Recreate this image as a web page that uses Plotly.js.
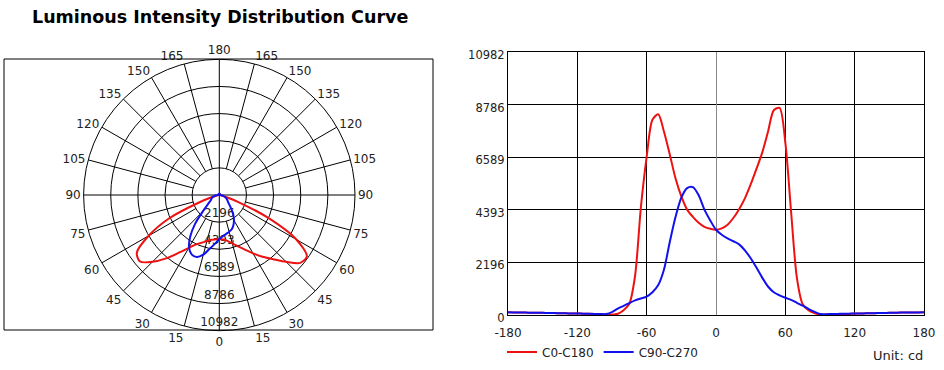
<!DOCTYPE html>
<html>
<head>
<meta charset="utf-8">
<script src="https://cdn.plot.ly/plotly-3.0.1.min.js"></script>
<style>html,body{margin:0;padding:0;background:#fff;}#chart{width:944px;height:370px;}</style>
</head>
<body>
<div id="chart"></div>
<script>
// ---- data ----
const angles = [-180,-175,-170,-165,-160,-155,-150,-145,-140,-135,-130,-125,-120,-115,-110,-105,-100,-95,-90,-85,-80,-75,-70,-65,-60,-55,-50,-45,-40,-35,-30,-25,-20,-15,-10,-5,0,5,10,15,20,25,30,35,40,45,50,55,60,65,70,75,80,85,90,95,100,105,110,115,120,125,130,135,140,145,150,155,160,165,170,175,180];
const c0c180 = [110,105,100,100,95,95,90,85,80,75,70,65,60,55,50,40,30,20,10,50,200,470,1650,4500,6600,8150,8380,7650,6700,5700,4950,4400,4100,3850,3680,3600,3560,3620,3770,4050,4420,4870,5450,6100,6780,7650,8550,8650,7200,4300,1550,450,200,80,20,15,20,30,35,45,55,60,70,75,80,85,90,95,100,100,105,105,110];
const c90c270 = [110,105,100,100,95,95,90,85,80,75,70,65,60,55,50,45,40,40,120,270,380,500,610,690,770,950,1250,1900,3050,4100,4900,5300,5340,5000,4400,3950,3560,3350,3200,3080,2950,2700,2370,1980,1560,1190,950,820,720,630,510,390,260,140,40,35,40,45,50,55,60,65,70,75,80,85,90,95,100,100,105,105,110];
const seriesNames = ['C0-C180','C90-C270'];
const maxVal = 10982;
const radialTicks = [2196.4,4392.8,6589.2,8785.6,10982];
const radialTickText = ['2196','4393','6589','8786','10982'];
const xTicks = [-180,-120,-60,0,60,120,180];
const xTickText = ['-180','-120','-60','0','60','120','180'];
const yTicks = [0,2196.4,4392.8,6589.2,8785.6,10982];
const yTickText = ['0','2196','4393','6589','8786','10982'];
const polarTickVals = [0,15,30,45,60,75,90,105,120,135,150,165,180,195,210,225,240,255,270,285,300,315,330,345];
const polarTickText = ['0','15','30','45','60','75','90','105','120','135','150','165','180','165','150','135','120','105','90','75','60','45','30','15'];
const titleText = 'Luminous Intensity Distribution Curve';
const unitText = 'Unit: cd';

// ---- styles ----
const RED = '#ee1111', BLUE = '#1111ee';
const FONT = 'DejaVu Sans, Verdana, sans-serif';

// spokes grid for polar
const spokeR = [], spokeT = [];
polarTickVals.forEach(a => {
  const full = (a % 90 === 0);
  spokeR.push(full ? 0 : radialTicks[0], maxVal, null);
  spokeT.push(a, a, null);
});

const traces = [
  {type:'scatterpolar', r:spokeR, theta:spokeT, mode:'lines', line:{color:'#000', width:1},
   hoverinfo:'skip', showlegend:false, subplot:'polar', connectgaps:false},
  {type:'scatterpolar', r:radialTicks.map(v => v - 650), theta:radialTicks.map(() => 0), mode:'text',
   text:radialTickText, textposition:'middle center', textfont:{family:FONT, size:12, color:'#222'},
   hoverinfo:'skip', showlegend:false, subplot:'polar'},
  {type:'scatterpolar', r:c0c180, theta:angles, mode:'lines', line:{color:RED, width:2, shape:'spline', smoothing:0.8},
   showlegend:false, subplot:'polar', name:seriesNames[0]},
  {type:'scatterpolar', r:c90c270, theta:angles, mode:'lines', line:{color:BLUE, width:2, shape:'spline', smoothing:0.8},
   showlegend:false, subplot:'polar', name:seriesNames[1]},
  {type:'scatter', x:angles, y:c0c180, mode:'lines', name:seriesNames[0],
   line:{color:RED, width:2, shape:'spline', smoothing:0.8}, xaxis:'x', yaxis:'y'},
  {type:'scatter', x:angles, y:c90c270, mode:'lines', name:seriesNames[1],
   line:{color:BLUE, width:2, shape:'spline', smoothing:0.8}, xaxis:'x', yaxis:'y'}
];

const W = 944, H = 370;
const cx = 219.3, cy = 195, R = 135.7;

const layout = {
  width: W, height: H,
  margin:{l:0, r:0, t:0, b:0},
  paper_bgcolor:'#fff', plot_bgcolor:'#fff',
  font:{family:FONT, color:'#222'},
  polar:{
    domain:{x:[(cx-R)/W, (cx+R)/W], y:[1-(cy+R)/H, 1-(cy-R)/H]},
    bgcolor:'#fff',
    angularaxis:{rotation:270, direction:'counterclockwise', tickmode:'array',
      tickvals:polarTickVals, ticktext:polarTickText, showgrid:false, ticks:'',
      showline:true, linecolor:'#000', linewidth:1, tickfont:{family:FONT, size:12, color:'#222'}},
    radialaxis:{range:[0, maxVal], tickmode:'array', tickvals:radialTicks, showticklabels:false,
      ticks:'', showline:false, showgrid:true, gridcolor:'#000', gridwidth:1}
  },
  xaxis:{domain:[508/W, 924/W], range:[-180,180], tickmode:'array', tickvals:xTicks, ticktext:xTickText,
    showgrid:true, gridcolor:'#000', gridwidth:1, zeroline:true, zerolinecolor:'#888', zerolinewidth:1,
    showline:true, mirror:true, linecolor:'#000', linewidth:1, ticks:'', fixedrange:true,
    tickfont:{family:FONT, size:12, color:'#222'}, anchor:'y', automargin:false, ticklabelstandoff:7},
  yaxis:{domain:[1-315/H, 1-52/H], range:[0, maxVal], tickmode:'array', tickvals:yTicks, ticktext:yTickText,
    showgrid:true, gridcolor:'#000', gridwidth:1, zeroline:false,
    showline:true, mirror:true, linecolor:'#000', linewidth:1, ticks:'', fixedrange:true,
    tickfont:{family:FONT, size:11.5, color:'#222'}, anchor:'x', automargin:false, ticklabelshift:3},
  showlegend:true,
  legend:{orientation:'h', x:502/W, xanchor:'left', y:1-352/H, yanchor:'middle',
    font:{family:FONT, size:12, color:'#222'}, bgcolor:'rgba(0,0,0,0)', itemwidth:30, tracegroupgap:0},
  shapes:[{type:'rect', xref:'paper', yref:'paper', x0:4/W, x1:433/W, y0:1-330/H, y1:1-59/H,
    line:{color:'#000', width:1}, layer:'above'}],
  annotations:[
    {text:'<b>'+titleText+'</b>', xref:'paper', yref:'paper', x:30/W, y:1-17/H, xanchor:'left', yanchor:'middle',
     showarrow:false, font:{family:FONT, size:17.5, color:'#000'}},
    {text:unitText, xref:'paper', yref:'paper', x:925/W, y:1-355/H, xanchor:'right', yanchor:'middle',
     showarrow:false, font:{family:FONT, size:13, color:'#222'}}
  ]
};

Plotly.newPlot('chart', traces, layout, {staticPlot:true, displayModeBar:false});
</script>
</body>
</html>
